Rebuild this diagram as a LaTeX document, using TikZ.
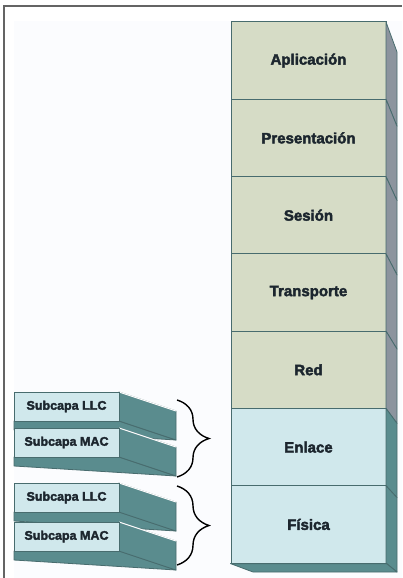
\documentclass[tikz,border=0pt]{standalone}
\usepackage{fontspec}
\setmainfont{Liberation Sans}[BoldFeatures={FakeBold=2.6}]
\usetikzlibrary{decorations.pathreplacing}
\definecolor{upperface}{RGB}{214,220,198}
\definecolor{lowerface}{RGB}{208,232,236}
\definecolor{upperside}{RGB}{140,148,158}
\definecolor{lowerside}{RGB}{90,140,142}
\definecolor{edgeline}{RGB}{72,108,110}
\definecolor{labeltext}{RGB}{28,38,46}
\definecolor{framegray}{RGB}{100,100,100}
\definecolor{innerbg}{RGB}{251,252,254}
\tikzset{
    layer/.style = {rectangle, draw=edgeline, line width=1pt, minimum width=155pt, minimum height=77.3pt, inner sep=0pt, text=labeltext, font=\bfseries\fontsize{15}{17}\selectfont},
    upperlayer/.style = {layer, fill=upperface},
    lowerlayer/.style = {layer, fill=lowerface},
    sublayer/.style = {rectangle, draw=edgeline, line width=0.8pt, fill=lowerface, minimum width=105pt, minimum height=29pt, inner sep=0pt, text=labeltext, font=\bfseries\fontsize{12.5}{14}\selectfont},
    sideu/.style = {fill=upperside, draw=edgeline, line width=0.8pt, line join=round},
    sidel/.style = {fill=lowerside, draw=edgeline, line width=0.8pt, line join=round},
    curly/.style = {decorate, decoration={brace, amplitude=32pt}, line width=1.4pt, black}
}

\begin{document}
\begin{tikzpicture}[x=1pt,y=-1pt]
\useasboundingbox (0,0) rectangle (402,578);
\fill[white] (0,0) rectangle (402,578);
\fill[innerbg] (14,21) rectangle (402,578);
\draw[framegray, line width=1.5pt] (4,578) -- (4,6) -- (402,6);
% main stack
\node[upperlayer] at (308.5, 60.65) (app) {Aplicación};
\node[upperlayer] at (308.5,137.95) (pres) {Presentación};
\node[upperlayer] at (308.5,215.25) (ses) {Sesión};
\node[upperlayer] at (308.5,292.55) (trans) {Transporte};
\node[upperlayer] at (308.5,369.85) (red) {Red};
\node[lowerlayer] at (308.5,447.15) (enl) {Enlace};
\node[lowerlayer] at (308.5,524.45) (fis) {Física};
%
\foreach \ya/\ka/\yb/\kb/\st in {22/30/99.3/27/sideu, 99.3/27/176.6/24/sideu, 176.6/24/253.9/21/sideu, 253.9/21/331.1/18/sideu, 331.1/18/408.4/15/sideu, 408.4/15/485.7/12/sidel, 485.7/12/563/9/sidel}
    \filldraw[\st] (386,\ya) -- (397,\ya+\ka) -- (397,\yb+\kb) -- (386,\yb) -- cycle;
\filldraw[sidel] (fis.south west) -- (fis.south east) -- (397,572) -- (253,572) -- cycle;
% sub-layers
\foreach \yc/\txt/\nm in {406.5/{Subcapa LLC}/llcup, 442.5/{Subcapa MAC}/macup, 497.5/{Subcapa LLC}/llclow, 536.5/{Subcapa MAC}/maclow}{
    \filldraw[sidel] (14,\yc+14.5) -- (119,\yc+14.5) -- (176,\yc+33.5) -- (14,\yc+23.5) -- cycle;
    \filldraw[sidel] (119,\yc-14.5) -- (176,\yc+4.5) -- (176,\yc+33.5) -- (119,\yc+14.5) -- cycle;
    \draw[white, line width=1pt] (119,\yc-14.5) -- (176,\yc+4.5);
    \node[sublayer] at (66.5,\yc) (\nm) {\txt};
}
% braces
\coordinate (bracetopA) at (177,400);
\coordinate (bracebotA) at (177,477);
\coordinate (bracetopB) at (177,486);
\coordinate (bracebotB) at (177,565);
\draw[curly] (bracetopA) -- (bracebotA);
\draw[curly] (bracetopB) -- (bracebotB);
\end{tikzpicture}
\end{document}
